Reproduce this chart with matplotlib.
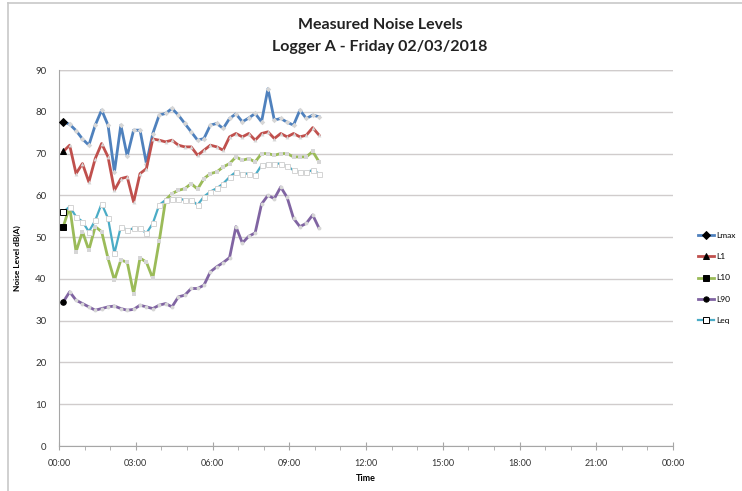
import numpy as np
from matplotlib import pyplot as plt
from matplotlib.lines import Line2D

plt.rcParams['font.family'] = ['Lato', 'DejaVu Sans']

# 15 minute readings from 00:10
start_minutes = 10
step_minutes = 15

lmax = [77.6, 77.0, 75.5, 73.5, 72.0, 76.8, 80.4, 76.8, 65.6, 76.8, 69.4, 75.6, 75.6, 67.6,
        74.8, 79.2, 79.6, 80.8, 79.2, 77.2, 75.2, 73.2, 73.6, 76.8, 77.2, 76.0, 78.4, 79.5,
        77.6, 78.5, 79.6, 77.6, 85.5, 78.0, 78.4, 77.5, 76.8, 80.4, 78.4, 79.2, 78.8]
l1 = [70.5, 72.0, 65.2, 67.6, 63.2, 68.8, 72.4, 69.2, 61.2, 64.0, 64.4, 58.4, 65.2, 66.4,
      73.5, 73.2, 72.8, 73.2, 72.0, 71.6, 71.6, 69.6, 70.8, 72.0, 71.6, 70.8, 74.0, 74.8,
      74.0, 74.8, 73.2, 74.8, 75.2, 73.6, 74.8, 74.0, 74.8, 74.0, 74.4, 76.2, 74.4]
l10 = [52.5, 57.3, 46.5, 51.3, 46.9, 52.5, 51.3, 44.9, 39.7, 44.5, 44.0, 36.5, 45.0, 44.0,
       40.1, 49.0, 58.9, 60.4, 61.2, 61.6, 62.8, 61.5, 64.0, 65.2, 65.6, 66.8, 67.6, 69.2,
       68.4, 68.8, 68.0, 70.0, 70.0, 69.6, 70.0, 70.0, 69.2, 69.2, 69.2, 70.5, 68.0]
l90 = [34.5, 36.9, 34.9, 34.1, 33.3, 32.5, 32.9, 33.3, 33.5, 32.9, 32.5, 32.7, 33.7, 33.3,
       32.9, 33.7, 34.1, 33.3, 35.7, 36.1, 37.7, 37.7, 38.5, 41.7, 42.9, 43.9, 45.1, 52.5,
       48.6, 50.2, 51.0, 57.9, 60.0, 59.2, 62.0, 59.5, 54.5, 52.5, 53.3, 55.3, 52.1]
leq = [56.0, 57.3, 54.9, 53.7, 51.3, 54.0, 58.0, 54.5, 46.1, 52.5, 51.7, 52.1, 52.1, 50.9,
       53.3, 57.7, 58.9, 59.2, 59.2, 58.9, 58.9, 57.7, 59.7, 60.9, 61.7, 62.8, 64.4, 65.6,
       65.2, 65.2, 64.8, 67.2, 67.6, 67.6, 67.6, 67.0, 66.0, 65.6, 65.6, 66.0, 65.2]

hours = [(start_minutes + i * step_minutes) / 60 for i in range(len(lmax))]
tick_hours = [0, 3, 6, 9, 12, 15, 18, 21, 24]
tick_labels = ['00:00', '03:00', '06:00', '09:00', '12:00', '15:00', '18:00', '21:00', '00:00']

# name, values, colour, marker, line width
series = [
    ('Lmax', lmax, '#4f81bd', 'D', 2.0),
    ('L1', l1, '#c0504d', '^', 2.0),
    ('L10', l10, '#9bbb59', 's', 2.0),
    ('L90', l90, '#8064a2', 'o', 2.0),
    ('Leq', leq, '#4bacc6', 's', 1.6),
]

fig = plt.figure(figsize=(7.42, 4.91), dpi=100)
ax = fig.add_axes([59 / 742, 1 - 446 / 491, 614 / 742, 376 / 491])

handles = []
for name, vals, col, mk, lw in series:
    if name == 'Leq':
        ax.plot(hours, vals, color=col, linewidth=lw, marker=mk, markersize=3.6,
                markerfacecolor='white', markeredgecolor='#d4d4d4', markeredgewidth=0.7,
                zorder=3)
    else:
        ax.plot(hours, vals, color=col, linewidth=lw, marker=mk, markersize=2.8,
                markerfacecolor='#d6d6d6', markeredgewidth=0, zorder=3)
    first_face = 'white' if name == 'Leq' else 'black'
    ax.plot(hours[0], vals[0], marker=mk, markersize=4, markerfacecolor=first_face,
            markeredgecolor='black', markeredgewidth=0.7, linestyle='none', zorder=4)
    handles.append(Line2D([0], [0], color=col, linewidth=lw, marker=mk, markersize=3.8,
                          markerfacecolor=first_face, markeredgecolor='black',
                          markeredgewidth=0.7))

ax.set_xlim(0, 24)
ax.set_ylim(0, 90)
ax.set_yticks(range(0, 91, 10))
ax.set_xticks(tick_hours)
ax.set_xticks(range(0, 25), minor=True)
ax.set_xticklabels(tick_labels)
ax.tick_params(axis='x', which='major', direction='inout', length=6, color='#a6a6a6',
               labelsize=6.5, pad=6, labelcolor='#333333')
ax.tick_params(axis='x', which='minor', direction='out', length=3, color='#a6a6a6')
ax.tick_params(axis='y', length=0, labelsize=7, pad=9, labelcolor='#333333')

ax.grid(axis='y', color='#d0cccc', linewidth=1)
ax.set_axisbelow(True)
for side in ['top', 'right']:
    ax.spines[side].set_visible(False)
for side in ['left', 'bottom']:
    ax.spines[side].set_color('#a6a6a6')
ax.axhline(90, color='#d0cccc', linewidth=1, zorder=0)

ax.set_xlabel('Time', fontsize=6.5, fontweight='bold', labelpad=5)
ax.set_ylabel('Noise Level dB(A)', fontsize=6, fontweight='bold', labelpad=10)

fig.text(380 / 742, 1 - 25 / 491, 'Measured Noise Levels', ha='center', va='center',
         fontsize=11.5, fontweight='bold', color='#222222')
fig.text(380 / 742, 1 - 47 / 491, 'Logger A - Friday 02/03/2018', ha='center', va='center',
         fontsize=11.5, fontweight='bold', color='#222222')

fig.legend(handles, [s[0] for s in series], loc='center left',
           bbox_to_anchor=(690 / 742, 1 - 278 / 491), frameon=False, fontsize=6,
           handlelength=2.0, labelspacing=1.7, handletextpad=0.3)

# outer chart frame
fig.add_artist(Line2D([8 / 742, 8 / 742], [0, 1 - 3 / 491], color='#c8c8c8', linewidth=1.2))
fig.add_artist(Line2D([8 / 742, 1], [1 - 3 / 491, 1 - 3 / 491], color='#c8c8c8', linewidth=1.2))

fig.savefig('out.png', dpi=100)
